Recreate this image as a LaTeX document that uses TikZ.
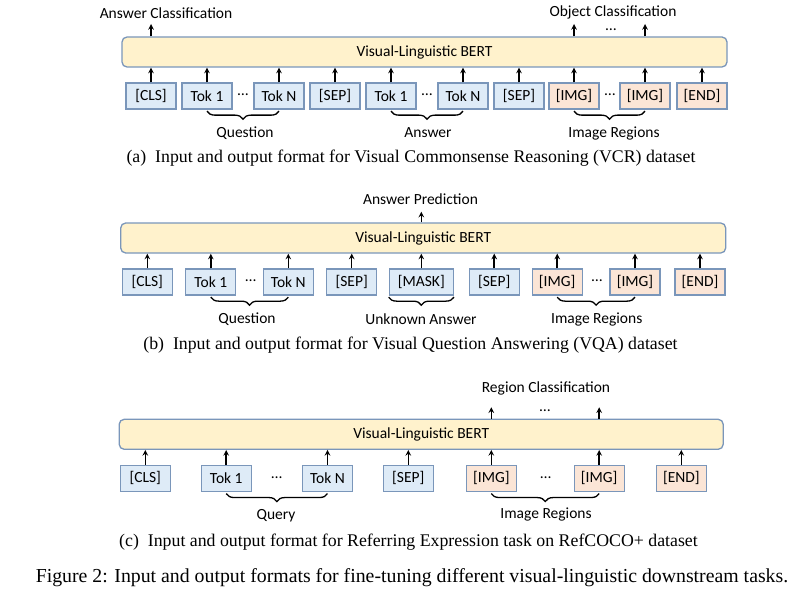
\documentclass[tikz,border=0pt]{standalone}
\usepackage{fontspec}
\setmainfont{Liberation Serif}
\newfontfamily\calib{Carlito}
\usetikzlibrary{decorations.pathreplacing}
\definecolor{boxline}{HTML}{7A96BA}
\definecolor{tokblue}{HTML}{DEEBF7}
\definecolor{imgpeach}{HTML}{FBE5D6}
\definecolor{bertyellow}{HTML}{FFF2CC}

\begin{document}
\begin{tikzpicture}[x=1pt,y=-1pt]
  \tikzset{
      > = stealth,
      every node/.append style = {
          font = \calib\fontsize{15.5}{18}\selectfont
      },
      up/.style = {
          ->, line width = 1.5pt
      },
      tok/.style = {
          draw = boxline, fill = tokblue, line width = 1.3pt,
          minimum width = 50pt, minimum height = 26pt, inner sep = 0pt
      },
      img/.style = {
          tok, fill = imgpeach
      },
      gap/.style = {
          inner sep = 0pt
      },
      bert/.style = {
          draw = boxline, fill = bertyellow, line width = 1.3pt,
          rounded corners = 5pt, minimum height = 30pt, inner sep = 0pt
      },
      grp/.style = {
          decorate, decoration = {brace, mirror, amplitude = 8pt},
          line width = 1.3pt
      },
      captxt/.style = {
          font = \rmfamily\fontsize{17.8}{20}\selectfont
      }
  }
  \useasboundingbox (0,0) rectangle (800,607);

  % (a) VCR
  \node[bert, minimum width = 605pt] (abert) at (424.5,52) {Visual-Linguistic BERT};
  \node[tok] (acls) at (151,96) {[CLS]};
  \node[tok] (aq1) at (207,96) {Tok 1};
  \node[gap] (aqd) at (243,95) {…};
  \node[tok] (aqn) at (279,96) {Tok N};
  \node[tok] (asepa) at (335,96) {[SEP]};
  \node[tok] (aa1) at (391,96) {Tok 1};
  \node[gap] (aad) at (427,95) {…};
  \node[tok] (aan) at (463,96) {Tok N};
  \node[tok] (asepb) at (519,96) {[SEP]};
  \node[img] (ai1) at (574,96) {[IMG]};
  \node[gap] (aid) at (610,95) {…};
  \node[img] (ain) at (645,96) {[IMG]};
  \node[img] (aend) at (702,96) {[END]};
  \node[gap] (aans) at (166,12.7) {Answer Classification};
  \node[gap] (aobj) at (613,12.7) {Object Classification};
  \node[gap] (aobjd) at (611,30) {…};
  \coordinate (aup) at (0,24);
  \draw[up] (acls.north) -- (acls.north |- abert.south);
  \draw[up] (aq1.north) -- (aq1.north |- abert.south);
  \draw[up] (aqn.north) -- (aqn.north |- abert.south);
  \draw[up] (asepa.north) -- (asepa.north |- abert.south);
  \draw[up] (aa1.north) -- (aa1.north |- abert.south);
  \draw[up] (aan.north) -- (aan.north |- abert.south);
  \draw[up] (asepb.north) -- (asepb.north |- abert.south);
  \draw[up] (ai1.north) -- (ai1.north |- abert.south);
  \draw[up] (ain.north) -- (ain.north |- abert.south);
  \draw[up] (aend.north) -- (aend.north |- abert.south);
  \draw[up] (abert.north -| acls) -- (acls |- aup);
  \draw[up] (abert.north -| ai1) -- (ai1 |- aup);
  \draw[up] (abert.north -| ain) -- (ain |- aup);
  \draw[grp] ([yshift=-1.5pt]aq1.south) -- ([yshift=-1.5pt]aqn.south);
  \draw[grp] ([yshift=-1.5pt]aa1.south) -- ([yshift=-1.5pt]aan.south);
  \draw[grp] ([yshift=-1.5pt]ai1.south) -- ([yshift=-1.5pt]ain.south);
  \node (aqlbl) at (245,133) {Question};
  \node (aalbl) at (428,133) {Answer};
  \node (ailbl) at (614,133) {Image Regions};
  \node[captxt] (acap) at (411,158) {(a)\ \ Input and output format for Visual Commonsense Reasoning (VCR) dataset};

  % (b) VQA
  \node[bert, minimum width = 605pt] (bbert) at (423.2,238) {Visual-Linguistic BERT};
  \node[tok] (bcls) at (147.3,282) {[CLS]};
  \node[tok] (bq1) at (210.8,282) {Tok 1};
  \node[gap] (bqd) at (250.7,281) {…};
  \node[tok] (bqn) at (288.3,282) {Tok N};
  \node[tok] (bsepa) at (351.7,282) {[SEP]};
  \node[tok, minimum width = 64pt] (bmask) at (421.3,282) {[MASK]};
  \node[tok] (bsepb) at (494.2,282) {[SEP]};
  \node[img] (bi1) at (557.2,282) {[IMG]};
  \node[gap] (bid) at (597,281) {…};
  \node[img] (bin) at (635,282) {[IMG]};
  \node[img] (bend) at (700,282) {[END]};
  \node[gap] (bans) at (420.5,199) {Answer Prediction};
  \coordinate (bup) at (0,211.7);
  \draw[up] (bcls.north) -- (bcls.north |- bbert.south);
  \draw[up] (bq1.north) -- (bq1.north |- bbert.south);
  \draw[up] (bqn.north) -- (bqn.north |- bbert.south);
  \draw[up] (bsepa.north) -- (bsepa.north |- bbert.south);
  \draw[up] (bmask.north) -- (bmask.north |- bbert.south);
  \draw[up] (bsepb.north) -- (bsepb.north |- bbert.south);
  \draw[up] (bi1.north) -- (bi1.north |- bbert.south);
  \draw[up] (bin.north) -- (bin.north |- bbert.south);
  \draw[up] (bend.north) -- (bend.north |- bbert.south);
  \draw[up] (bbert.north -| bmask) -- (bmask |- bup);
  \draw[grp] ([yshift=-1.5pt]bq1.south) -- ([yshift=-1.5pt]bqn.south);
  \draw[grp] ([yshift=-1.5pt]bmask.south west) -- ([yshift=-1.5pt]bmask.south east);
  \draw[grp] ([yshift=-1.5pt]bi1.south) -- ([yshift=-1.5pt]bin.south);
  \node (bqlbl) at (247,319) {Question};
  \node (bmlbl) at (421,319) {Unknown Answer};
  \node (bilbl) at (596.7,319) {Image Regions};
  \node[captxt] (bcap) at (410.5,345) {(b)\ \ Input and output format for Visual Question Answering (VQA) dataset};

  % (c) RefCOCO+
  \node[bert, minimum width = 604pt] (cbert) at (421.2,434.3) {Visual-Linguistic BERT};
  \node[tok] (ccls) at (145.3,478.4) {[CLS]};
  \node[tok] (cq1) at (226.2,478.4) {Tok 1};
  \node[gap] (cqd) at (276.7,477.4) {…};
  \node[tok] (cqn) at (327.5,478.4) {Tok N};
  \node[tok] (csep) at (408.3,478.4) {[SEP]};
  \node[img] (ci1) at (491.3,478.4) {[IMG]};
  \node[gap] (cid) at (545.7,477.4) {…};
  \node[img] (cin) at (599.2,478.4) {[IMG]};
  \node[img] (cend) at (681.3,478.4) {[END]};
  \node[gap] (creg) at (546,388.3) {Region Classification};
  \node[gap] (cregd) at (545,411) {…};
  \coordinate (cup) at (0,407.3);
  \draw[up] (ccls.north) -- (ccls.north |- cbert.south);
  \draw[up] (cq1.north) -- (cq1.north |- cbert.south);
  \draw[up] (cqn.north) -- (cqn.north |- cbert.south);
  \draw[up] (csep.north) -- (csep.north |- cbert.south);
  \draw[up] (ci1.north) -- (ci1.north |- cbert.south);
  \draw[up] (cin.north) -- (cin.north |- cbert.south);
  \draw[up] (cend.north) -- (cend.north |- cbert.south);
  \draw[up] (cbert.north -| ci1) -- (ci1 |- cup);
  \draw[up] (cbert.north -| cin) -- (cin |- cup);
  \draw[grp] ([yshift=-1.5pt]cq1.south) -- ([yshift=-1.5pt]cqn.south);
  \draw[grp] ([yshift=-1.5pt]ci1.south) -- ([yshift=-1.5pt]cin.south);
  \node (cqlbl) at (276,515.5) {Query};
  \node (cilbl) at (546,514.5) {Image Regions};
  \node[captxt] (ccap) at (408.5,541.7) {(c)\ \ Input and output format for Referring Expression task on RefCOCO+ dataset};

  \node[captxt, font = \rmfamily\fontsize{19.8}{22}\selectfont] (figcap) at (412,578) {Figure 2: Input and output formats for fine-tuning different visual-linguistic downstream tasks.};
\end{tikzpicture}
\end{document}
